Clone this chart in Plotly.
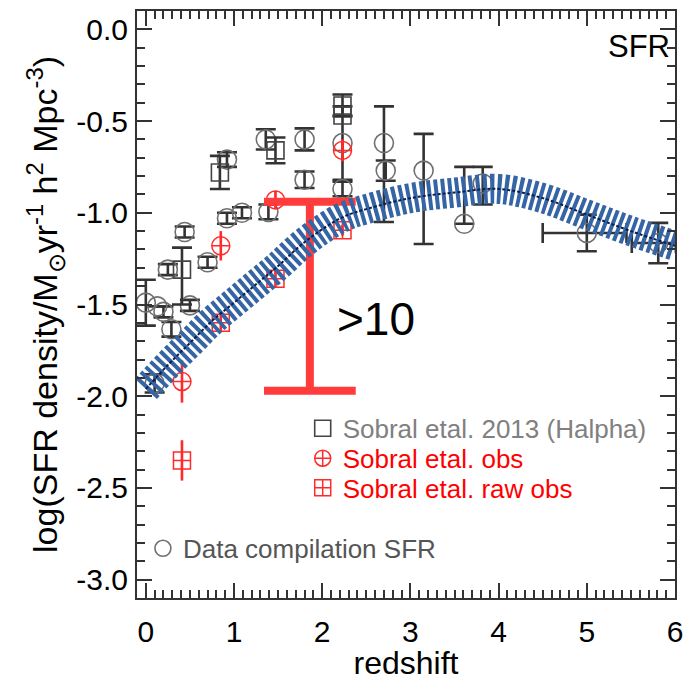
import plotly.graph_objects as go

# ---------------- data ----------------
# Data compilation SFR (gray open circles)
comp_z = [0.00, 0.13, 0.20, 0.29, 0.25, 0.44, 0.50, 0.70, 0.92, 1.09, 0.92, 1.36, 1.39, 1.80, 1.80, 2.23, 2.23, 2.70, 2.72, 3.15, 3.61, 3.82, 0.10]
comp_y = [-1.49, -1.51, -1.54, -1.635, -1.31, -1.105, -1.505, -1.27, -1.03, -1.00, -0.71, -0.60, -0.995, -0.60, -0.82, -0.62, -0.87, -0.62, -0.77, -0.77, -1.06, -0.84, -1.93]
comp_ep = [0.125, 0.0, 0.03, 0.04, 0.03, 0.03, 0.03, 0.03, 0.03, 0.03, 0.04, 0.055, 0.04, 0.06, 0.045, 0.20, 0.04, 0.20, 0.055, 0.20, 0.31, 0.09, 0.05]
comp_em = [0.125, 0.0, 0.03, 0.04, 0.03, 0.03, 0.03, 0.03, 0.03, 0.03, 0.04, 0.055, 0.04, 0.06, 0.045, 0.20, 0.04, 0.43, 0.055, 0.40, 0.0, 0.115, 0.05]

# high-z compilation points with redshift bins
hiz_z = [5.00, 5.81]
hiz_y = [-1.11, -1.165]
hiz_ey = [0.10, 0.11]
hiz_exp = [0.45, 0.20]
hiz_exm = [0.50, 0.30]

# Sobral et al. 2013 (Halpha) squares
sob13_z = [0.41, 0.84, 1.47, 2.23, 2.23]
sob13_y = [-1.31, -0.78, -0.66, -0.415, -0.47]
sob13_ep = [0.12, 0.09, 0.07, 0.06, 0.0]
sob13_em = [0.19, 0.09, 0.07, 0.06, 0.0]

# Sobral et al. obs (red circle-cross)
obs_z = [0.41, 0.85, 1.47, 2.23]
obs_y = [-1.92, -1.18, -0.93, -0.66]
obs_e = [0.115, 0.08, 0.05, 0.06]

# Sobral et al. raw obs (red square-cross)
raw_z = [0.41, 0.85, 1.47, 2.23]
raw_y = [-2.35, -1.60, -1.36, -1.095]
raw_e = [0.11, 0.05, 0.05, 0.03]

# model curve (hatched band)
curve_z = [0.0, 0.25, 0.5, 0.75, 1.0, 1.25, 1.5, 1.75, 2.0, 2.25, 2.5, 3.0, 3.5, 4.0, 4.5, 5.0, 5.5, 6.0]
curve_y = [-1.96, -1.83, -1.71, -1.59, -1.49, -1.39, -1.29, -1.18, -1.09, -1.02, -0.98, -0.92, -0.89, -0.87, -0.92, -1.01, -1.10, -1.18]

# ">10" range bar
lim_z_left, lim_z_mid, lim_z_right = 1.34, 1.86, 2.38
lim_top, lim_bottom = -0.94, -1.97

# axis ticks
x_ticks = [0, 1, 2, 3, 4, 5, 6]
x_labels = ["0", "1", "2", "3", "4", "5", "6"]
y_ticks = [0.0, -0.5, -1.0, -1.5, -2.0, -2.5, -3.0]
y_labels = ["0.0", "-0.5", "-1.0", "-1.5", "-2.0", "-2.5", "-3.0"]

FONT = "Liberation Sans, Arial, sans-serif"
GRAY = "#707070"
DARK = "#333333"
RED = "#ff2a2a"

fig = go.Figure()

# compilation circles
fig.add_trace(go.Scatter(
    x=comp_z, y=comp_y, mode="markers",
    marker=dict(symbol="circle-open", size=19, color=GRAY, line=dict(width=1.6, color=GRAY)),
    error_y=dict(type="data", array=comp_ep, arrayminus=comp_em, color=DARK, thickness=2.6, width=10),
    name="<span style='color:#555555'>Data compilation SFR</span>", legend="legend4",
))
fig.add_trace(go.Scatter(
    x=hiz_z, y=hiz_y, mode="markers",
    marker=dict(symbol="circle-open", size=19, color=GRAY, line=dict(width=1.6, color=GRAY)),
    error_y=dict(type="data", array=hiz_ey, color=DARK, thickness=2.6, width=10),
    error_x=dict(type="data", array=hiz_exp, arrayminus=hiz_exm, color=DARK, thickness=2.6, width=10),
    showlegend=False,
))
# Sobral 2013 squares
fig.add_trace(go.Scatter(
    x=sob13_z, y=sob13_y, mode="markers",
    marker=dict(symbol="square-open", size=17, color="#444444", line=dict(width=1.6, color="#444444")),
    error_y=dict(type="data", array=sob13_ep, arrayminus=sob13_em, color=DARK, thickness=2.6, width=10),
    name="<span style='color:#808080'>Sobral etal. 2013 (Halpha)</span>", legend="legend",
))
# Sobral obs
fig.add_trace(go.Scatter(
    x=obs_z, y=obs_y, mode="markers",
    marker=dict(symbol="circle-cross-open", size=18, color=RED, line=dict(width=1.5, color=RED)),
    error_y=dict(type="data", array=obs_e, color=RED, thickness=2.6, width=0),
    name="<span style='color:#ff0000'>Sobral etal. obs</span>", legend="legend2",
))
# Sobral raw obs
fig.add_trace(go.Scatter(
    x=raw_z, y=raw_y, mode="markers",
    marker=dict(symbol="square-cross-open", size=17, color=RED, line=dict(width=1.5, color=RED)),
    error_y=dict(type="data", array=raw_e, color=RED, thickness=2.6, width=0),
    name="<span style='color:#ff0000'>Sobral etal. raw obs</span>", legend="legend3",
))

# >10 range bar
bar_x = [lim_z_left, lim_z_right, None, lim_z_mid, lim_z_mid, None, lim_z_left, lim_z_right]
bar_y = [lim_top, lim_top, None, lim_top, lim_bottom, None, lim_bottom, lim_bottom]
fig.add_trace(go.Scatter(x=bar_x, y=bar_y, mode="lines",
                         line=dict(color="#ff3b3b", width=8), showlegend=False, hoverinfo="skip"))

# hatched model band
fig.add_trace(go.Scatter(x=curve_z, y=curve_y, mode="lines",
                         line=dict(color="#3565a5", width=30, dash="4px,3px", shape="spline", smoothing=1),
                         showlegend=False, hoverinfo="skip"))
fig.add_trace(go.Scatter(x=curve_z, y=curve_y, mode="lines",
                         line=dict(color="#0b1f4f", width=2, dash="3px,2px", shape="spline", smoothing=1),
                         showlegend=False, hoverinfo="skip"))

# text
fig.add_annotation(x=0.995, y=0.939, xref="paper", yref="paper", text="SFR", showarrow=False,
                   xanchor="right", yanchor="middle", font=dict(family=FONT, size=31, color="black"))
fig.add_annotation(x=2.15, y=-1.58, xref="x", yref="y", text="&gt;10", showarrow=False,
                   xanchor="left", yanchor="middle", font=dict(family=FONT, size=46, color="black"))

axis_common = dict(
    showgrid=False, zeroline=False, showline=True, linewidth=2, linecolor=DARK,
    mirror="allticks", ticks="inside", ticklen=15, tickwidth=2, tickcolor=DARK,
    tickfont=dict(family=FONT, size=30, color="black"),
)

fig.update_layout(
    width=692, height=681,
    margin=dict(l=137, r=9, t=9, b=80),
    paper_bgcolor="white", plot_bgcolor="white",
    font=dict(family=FONT, color="black"),
    xaxis=dict(range=[-0.1, 6.0], tickmode="array", tickvals=x_ticks, ticktext=x_labels,
               minor=dict(dtick=0.1, tick0=0, ticks="inside", ticklen=8, tickwidth=1.5, tickcolor=DARK),
               title=dict(text="redshift", font=dict(family=FONT, size=32, color="black"), standoff=2),
               ticklabelstandoff=6, **axis_common),
    yaxis=dict(range=[-3.1, 0.1], tickmode="array", tickvals=y_ticks, ticktext=y_labels,
               minor=dict(dtick=0.1, tick0=0, ticks="inside", ticklen=8, tickwidth=1.5, tickcolor=DARK),
               title=dict(text="log(SFR density/M<sub>⊙</sub>yr<sup>-1</sup> h<sup>2</sup> Mpc<sup>-3</sup>)",
                          font=dict(family=FONT, size=34, color="black"), standoff=8),
               ticklabelstandoff=1, **axis_common),
    legend=dict(x=0.308, y=0.289, xanchor="left", yanchor="middle", bgcolor="rgba(0,0,0,0)",
                font=dict(family=FONT, size=26)),
    legend2=dict(x=0.308, y=0.238, xanchor="left", yanchor="middle", bgcolor="rgba(0,0,0,0)",
                 font=dict(family=FONT, size=26)),
    legend3=dict(x=0.308, y=0.1875, xanchor="left", yanchor="middle", bgcolor="rgba(0,0,0,0)",
                 font=dict(family=FONT, size=26)),
    legend4=dict(x=0.011, y=0.0845, xanchor="left", yanchor="middle", bgcolor="rgba(0,0,0,0)",
                 font=dict(family=FONT, size=26)),
)

fig.write_html("out.html")
